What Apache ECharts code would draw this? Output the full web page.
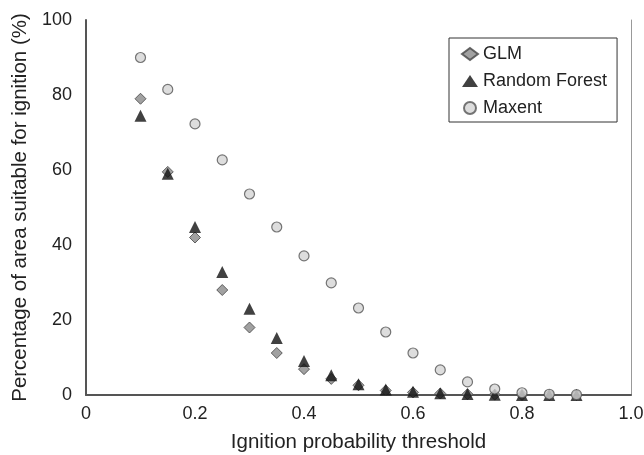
<!DOCTYPE html>
<html>
<head>
<meta charset="utf-8">
<script src="https://cdn.jsdelivr.net/npm/echarts@6/dist/echarts.min.js"></script>
<style>
html, body { margin: 0; padding: 0; background: #fff; }
#chart { width: 644px; height: 455px; }
</style>
</head>
<body>
<div id="chart"></div>
<script>
var thresholds = [0.1, 0.15, 0.2, 0.25, 0.3, 0.35, 0.4, 0.45, 0.5, 0.55, 0.6, 0.65, 0.7, 0.75, 0.8, 0.85, 0.9];
var glm = [79, 59.5, 42, 28, 18, 11.2, 6.9, 4.3, 2.6, 1.2, 0.7, 0.4, 0.2, 0.1, 0, 0, 0];
var randomForest = [74.5, 59, 44.8, 32.8, 23, 15.2, 9.1, 5.3, 2.9, 1.5, 0.9, 0.5, 0.3, 0.1, 0, 0, 0];
var maxent = [90, 81.5, 72.3, 62.7, 53.6, 44.8, 37.1, 29.9, 23.2, 16.8, 11.2, 6.7, 3.5, 1.6, 0.6, 0.2, 0.1];

var xTickLabels = ['0', '0.2', '0.4', '0.6', '0.8', '1.0'];

function pairs(values) {
	return thresholds.map(function(x, i) {
		return [x, values[i]];
	});
}

var font = 'Liberation Sans, Arial, sans-serif';
var myChart = echarts.init(document.getElementById('chart'));

myChart.setOption({
	backgroundColor: '#fff',
	animation: false,
	grid: { left: 86, right: 13, top: 20, bottom: 60, containLabel: false, outerBoundsMode: 'none' },
	legend: {
		orient: 'vertical',
		left: 449,
		top: 38,
		padding: [7, 10, 5, 12],
		itemGap: 9,
		itemWidth: 16,
		itemHeight: 12,
		borderColor: '#333',
		borderWidth: 1,
		textStyle: { fontFamily: font, fontSize: 18, color: '#222' },
		data: ['GLM', 'Random Forest', 'Maxent']
	},
	xAxis: {
		type: 'value',
		min: 0,
		max: 1,
		interval: 0.2,
		name: 'Ignition probability threshold',
		nameLocation: 'middle',
		nameGap: 37,
		nameTextStyle: { fontFamily: font, fontSize: 20.5, color: '#222' },
		axisLine: { lineStyle: { color: '#555', width: 2 } },
		axisTick: { show: false },
		splitLine: { show: false },
		axisLabel: {
			fontFamily: font, fontSize: 18, color: '#222', margin: 10,
			formatter: function(v) { return xTickLabels[Math.round(v / 0.2)]; }
		}
	},
	yAxis: [{
		type: 'value',
		min: 0,
		max: 100,
		interval: 20,
		name: 'Percentage of area suitable for ignition (%)',
		nameLocation: 'middle',
		nameGap: 52,
		nameTextStyle: { fontFamily: font, fontSize: 20.5, color: '#222' },
		axisLine: { show: true, lineStyle: { color: '#555', width: 2 } },
		axisTick: { show: false },
		splitLine: { show: false },
		axisLabel: { fontFamily: font, fontSize: 18, color: '#222', margin: 14 }
	}, {
		type: 'value',
		position: 'right',
		min: 0,
		max: 100,
		axisLine: { show: true, lineStyle: { color: '#999', width: 1 } },
		axisTick: { show: false },
		axisLabel: { show: false },
		splitLine: { show: false }
	}],
	series: [{
		name: 'GLM',
		type: 'scatter',
		symbol: 'diamond',
		symbolSize: 11,
		itemStyle: { color: '#8a8a8a', borderColor: '#444', borderWidth: 1 },
		data: pairs(glm)
	}, {
		name: 'Random Forest',
		type: 'scatter',
		symbol: 'triangle',
		symbolSize: 12,
		itemStyle: { color: '#111' },
		data: pairs(randomForest)
	}, {
		name: 'Maxent',
		type: 'scatter',
		symbol: 'circle',
		symbolSize: 10,
		itemStyle: { color: '#d4d4d4', borderColor: '#555', borderWidth: 1.2 },
		data: pairs(maxent)
	}]
});
</script>
</body>
</html>
